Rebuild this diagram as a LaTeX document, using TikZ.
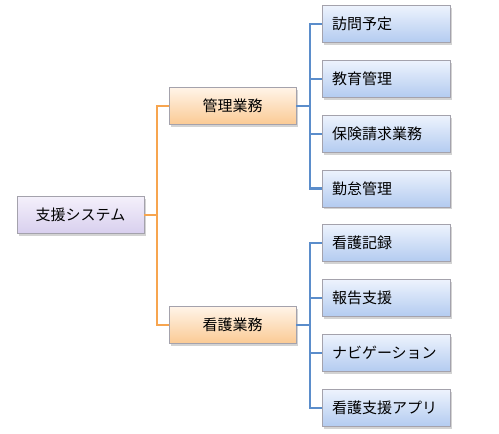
\documentclass[tikz,border=0pt]{standalone}
\usepackage{fontspec}
\setmainfont{Noto Sans CJK JP}
\usepackage{xcolor}
\usetikzlibrary{shadows}

\definecolor{rootTop}{HTML}{F4F0FB}
\definecolor{rootBot}{HTML}{D8CFEE}
\definecolor{midTop}{HTML}{FFF4E8}
\definecolor{midBot}{HTML}{FBCA94}
\definecolor{leafTop}{HTML}{EDF3FD}
\definecolor{leafBot}{HTML}{B3CBF0}
\definecolor{boxLine}{HTML}{A4A2AC}
\definecolor{orLine}{HTML}{F7A54F}
\definecolor{blLine}{HTML}{5B8DCB}

\tikzset{
  box/.style={draw=boxLine, line width=0.8pt, minimum height=37pt,
    font=\fontsize{15}{17}\selectfont, inner sep=0pt,
    drop shadow={opacity=0.35, shadow xshift=1.5pt, shadow yshift=-2pt}},
  rootbox/.style={box, minimum width=127pt, top color=rootTop, bottom color=rootBot},
  midbox/.style={box, minimum width=127pt, top color=midTop, bottom color=midBot},
  leafbox/.style={box, minimum width=128pt, text width=108pt, align=left,
    top color=leafTop, bottom color=leafBot},
  orwire/.style={orLine, line width=2.8pt},
  blwire/.style={blLine, line width=2.8pt}
}

\begin{document}
\begin{tikzpicture}[x=1pt, y=-1pt]
  \useasboundingbox (0,0) rectangle (499,434);
  % boxes
  \node[rootbox] (root) at (80.5,215) {支援システム};
  \node[midbox] (kanri) at (232.5,106) {管理業務};
  \node[midbox] (kango) at (232.5,325) {看護業務};
  \foreach \n/\y/\t in {a1/24/訪問予定, a2/79/教育管理, a3/134/保険請求業務, a4/188.5/勤怠管理,
                        b1/243/看護記録, b2/298/報告支援, b3/353/ナビゲーション, b4/408/看護支援アプリ}
    \node[leafbox] (\n) at (386,\y) {\t};
  % joints
  \coordinate (oj) at (157,215);
  \coordinate (aj) at (310,106);
  \coordinate (bj) at (310,325);
  % orange wires
  \draw[orwire] (root.east) -- (oj);
  \draw[orwire] (kanri.west) -| (oj) |- (kango.west);
  % blue wires
  \draw[blwire] (kanri.east) -- (aj);
  \draw[blwire] (kango.east) -- (bj);
  \foreach \n in {a1,a2,a3,a4}
    \draw[blwire] (\n.west) -| (aj);
  \foreach \n in {b1,b2,b3,b4}
    \draw[blwire] (\n.west) -| (bj);
\end{tikzpicture}
\end{document}
